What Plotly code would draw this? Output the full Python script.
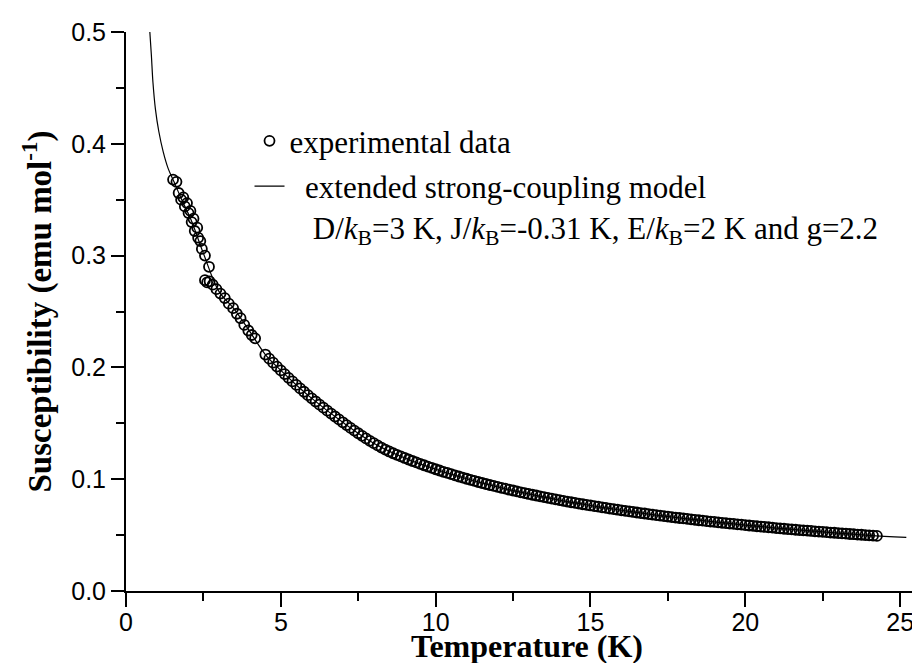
import plotly.graph_objects as go

temp_low = [1.52, 1.63, 1.70, 1.78, 1.85, 1.90, 1.97, 2.02, 2.08, 2.12, 2.18, 2.22, 2.30,
            2.33, 2.40, 2.45, 2.55, 2.68, 2.55, 2.62, 2.70, 2.80, 2.92, 3.05, 3.19, 3.32,
            3.46, 3.58, 3.70, 3.82, 3.95, 4.06, 4.17]
chi_low = [0.368, 0.366, 0.356, 0.350, 0.352, 0.344, 0.347, 0.338, 0.340, 0.330, 0.333, 0.322, 0.325,
           0.316, 0.313, 0.306, 0.300, 0.290, 0.278, 0.276, 0.277, 0.274, 0.270, 0.266, 0.262, 0.257,
           0.253, 0.248, 0.244, 0.238, 0.233, 0.229, 0.226]

temp_mid = [4.5, 4.625, 4.75, 4.875, 5.0, 5.125, 5.25, 5.375, 5.5, 5.625, 5.75, 5.875,
            6.0, 6.125, 6.25, 6.375, 6.5, 6.625, 6.75, 6.875, 7.0, 7.125, 7.25, 7.375,
            7.5, 7.625, 7.75, 7.875, 8.0, 8.125, 8.25, 8.375, 8.5, 8.625, 8.75, 8.875]
chi_mid = [0.2115, 0.2078, 0.2042, 0.2007, 0.1973, 0.1940, 0.1907, 0.1875, 0.1843, 0.1812, 0.1782, 0.1752,
           0.1723, 0.1695, 0.1667, 0.1640, 0.1613, 0.1587, 0.1561, 0.1535, 0.1509, 0.1484, 0.1459, 0.1435,
           0.1411, 0.1388, 0.1365, 0.1343, 0.1322, 0.1302, 0.1283, 0.1265, 0.1248, 0.1232, 0.1218, 0.1204]

temp_high = [
    9.0, 9.125, 9.25, 9.375, 9.5, 9.625, 9.75, 9.875,
    10.0, 10.125, 10.25, 10.375, 10.5, 10.625, 10.75, 10.875,
    11.0, 11.125, 11.25, 11.375, 11.5, 11.625, 11.75, 11.875,
    12.0, 12.125, 12.25, 12.375, 12.5, 12.625, 12.75, 12.875,
    13.0, 13.125, 13.25, 13.375, 13.5, 13.625, 13.75, 13.875,
    14.0, 14.125, 14.25, 14.375, 14.5, 14.625, 14.75, 14.875,
    15.0, 15.125, 15.25, 15.375, 15.5, 15.625, 15.75, 15.875,
    16.0, 16.125, 16.25, 16.375, 16.5, 16.625, 16.75, 16.875,
    17.0, 17.125, 17.25, 17.375, 17.5, 17.625, 17.75, 17.875,
    18.0, 18.125, 18.25, 18.375, 18.5, 18.625, 18.75, 18.875,
    19.0, 19.125, 19.25, 19.375, 19.5, 19.625, 19.75, 19.875,
    20.0, 20.125, 20.25, 20.375, 20.5, 20.625, 20.75, 20.875,
    21.0, 21.125, 21.25, 21.375, 21.5, 21.625, 21.75, 21.875,
    22.0, 22.125, 22.25, 22.375, 22.5, 22.625, 22.75, 22.875,
    23.0, 23.125, 23.25, 23.375, 23.5, 23.625, 23.75, 23.875,
    24.0, 24.125, 24.25]
chi_high = [
    0.1190, 0.1176, 0.1163, 0.1150, 0.1137, 0.1125, 0.1113, 0.1101,
    0.1089, 0.1078, 0.1066, 0.1056, 0.1045, 0.1034, 0.1024, 0.1014,
    0.1004, 0.0994, 0.0985, 0.0975, 0.0966, 0.0957, 0.0948, 0.0940,
    0.0931, 0.0923, 0.0915, 0.0906, 0.0899, 0.0891, 0.0883, 0.0876,
    0.0868, 0.0861, 0.0854, 0.0847, 0.0840, 0.0833, 0.0826, 0.0820,
    0.0813, 0.0807, 0.0800, 0.0794, 0.0788, 0.0782, 0.0776, 0.0770,
    0.0765, 0.0759, 0.0754, 0.0748, 0.0743, 0.0737, 0.0732, 0.0727,
    0.0722, 0.0717, 0.0712, 0.0707, 0.0702, 0.0697, 0.0693, 0.0688,
    0.0683, 0.0679, 0.0674, 0.0670, 0.0666, 0.0661, 0.0657, 0.0653,
    0.0649, 0.0645, 0.0641, 0.0637, 0.0633, 0.0629, 0.0625, 0.0621,
    0.0618, 0.0614, 0.0610, 0.0607, 0.0603, 0.0600, 0.0596, 0.0593,
    0.0589, 0.0586, 0.0583, 0.0579, 0.0576, 0.0573, 0.0570, 0.0567,
    0.0563, 0.0560, 0.0557, 0.0554, 0.0551, 0.0548, 0.0545, 0.0543,
    0.0540, 0.0537, 0.0534, 0.0531, 0.0529, 0.0526, 0.0523, 0.0521,
    0.0518, 0.0515, 0.0513, 0.0510, 0.0508, 0.0505, 0.0503, 0.0500,
    0.0498, 0.0495, 0.0493]

temp_exp = temp_low + temp_mid + temp_high
chi_exp = chi_low + chi_mid + chi_high

# ---- extended strong-coupling model curve ----
temp_model = [0.77, 0.82, 0.87, 0.95, 1.06, 1.20, 1.36, 1.55, 1.80, 2.10, 2.50, 3.0, 3.5, 4.0,
              4.5, 5.0, 5.5, 6.0, 7.0, 8.0, 9.0, 10.0, 11.0, 12.0, 13.0, 14.0, 15.0, 16.0,
              17.0, 18.0, 19.0, 20.0, 21.0, 22.0, 23.0, 24.0, 25.2]
chi_model = [0.500, 0.479, 0.455, 0.431, 0.411, 0.393, 0.378, 0.366, 0.350, 0.332, 0.302, 0.268,
             0.252, 0.232, 0.2115, 0.1973, 0.1843, 0.1723, 0.1509, 0.1322, 0.1190, 0.1089, 0.1004,
             0.0931, 0.0868, 0.0813, 0.0765, 0.0722, 0.0683, 0.0649, 0.0618, 0.0589, 0.0563,
             0.0540, 0.0518, 0.0498, 0.0480]

x_ticks = [0, 5, 10, 15, 20, 25]
y_ticks = [0.0, 0.1, 0.2, 0.3, 0.4, 0.5]

SERIF = "Liberation Serif, Times New Roman, serif"
SANS = "Liberation Sans, Arial, sans-serif"

fig = go.Figure()
fig.add_trace(go.Scatter(
    x=temp_exp, y=chi_exp, mode="markers", name="experimental data", legendgroup="exp",
    marker=dict(symbol="circle-open", size=10, color="black", line=dict(width=1.8, color="black")),
))
fig.add_trace(go.Scatter(
    x=temp_model, y=chi_model, mode="lines", legendgroup="model",
    line=dict(color="black", width=1.2, shape="spline"),
    name=("\u00a0\u00a0extended strong-coupling model<br>\u00a0\u00a0\u00a0D/<i>k</i><sub>B</sub>=3 K, "
          "J/<i>k</i><sub>B</sub>=-0.31 K, E/<i>k</i><sub>B</sub>=2 K and g=2.2"),
))

fig.update_layout(
    width=920, height=663,
    margin=dict(l=118, r=0, t=24, b=80),
    paper_bgcolor="white", plot_bgcolor="white",
    showlegend=True,
    legend=dict(
        x=0.154, y=0.853, xanchor="left", yanchor="top",
        font=dict(family=SERIF, size=31, color="black"),
        bgcolor="rgba(0,0,0,0)", borderwidth=0,
        itemwidth=30, valign="top", tracegroupgap=2,
    ),
    xaxis=dict(
        range=[0, 25.9], tickvals=x_ticks, ticktext=[str(v) for v in x_ticks],
        showgrid=False, zeroline=False,
        showline=True, linecolor="black", linewidth=2,
        ticks="outside", ticklen=14, tickwidth=2, tickcolor="black",
        minor=dict(dtick=2.5, ticks="outside", ticklen=8, tickwidth=2, tickcolor="black", showgrid=False),
        tickfont=dict(family=SANS, size=25, color="black"),
        ticklabelstandoff=-6,
        automargin=False,
    ),
    yaxis=dict(
        range=[0, 0.5], tickvals=y_ticks, ticktext=[f"{v:.1f}" for v in y_ticks],
        showgrid=False, zeroline=False,
        showline=True, linecolor="black", linewidth=2,
        ticks="outside", ticklen=13, tickwidth=2, tickcolor="black",
        minor=dict(dtick=0.05, ticks="outside", ticklen=8, tickwidth=2, tickcolor="black", showgrid=False),
        tickfont=dict(family=SANS, size=25, color="black"),
        title=dict(text="<b>Susceptibility (emu mol<sup>-1</sup>)</b>", font=dict(family=SERIF, size=33, color="black"), standoff=10),
    ),
    annotations=[dict(
        text="<b>Temperature (K)</b>", xref="paper", yref="paper", x=0.5, y=0, yshift=-75,
        xanchor="center", yanchor="bottom", showarrow=False,
        font=dict(family=SERIF, size=32, color="black"),
    )],
)

fig.write_html("out.html")
